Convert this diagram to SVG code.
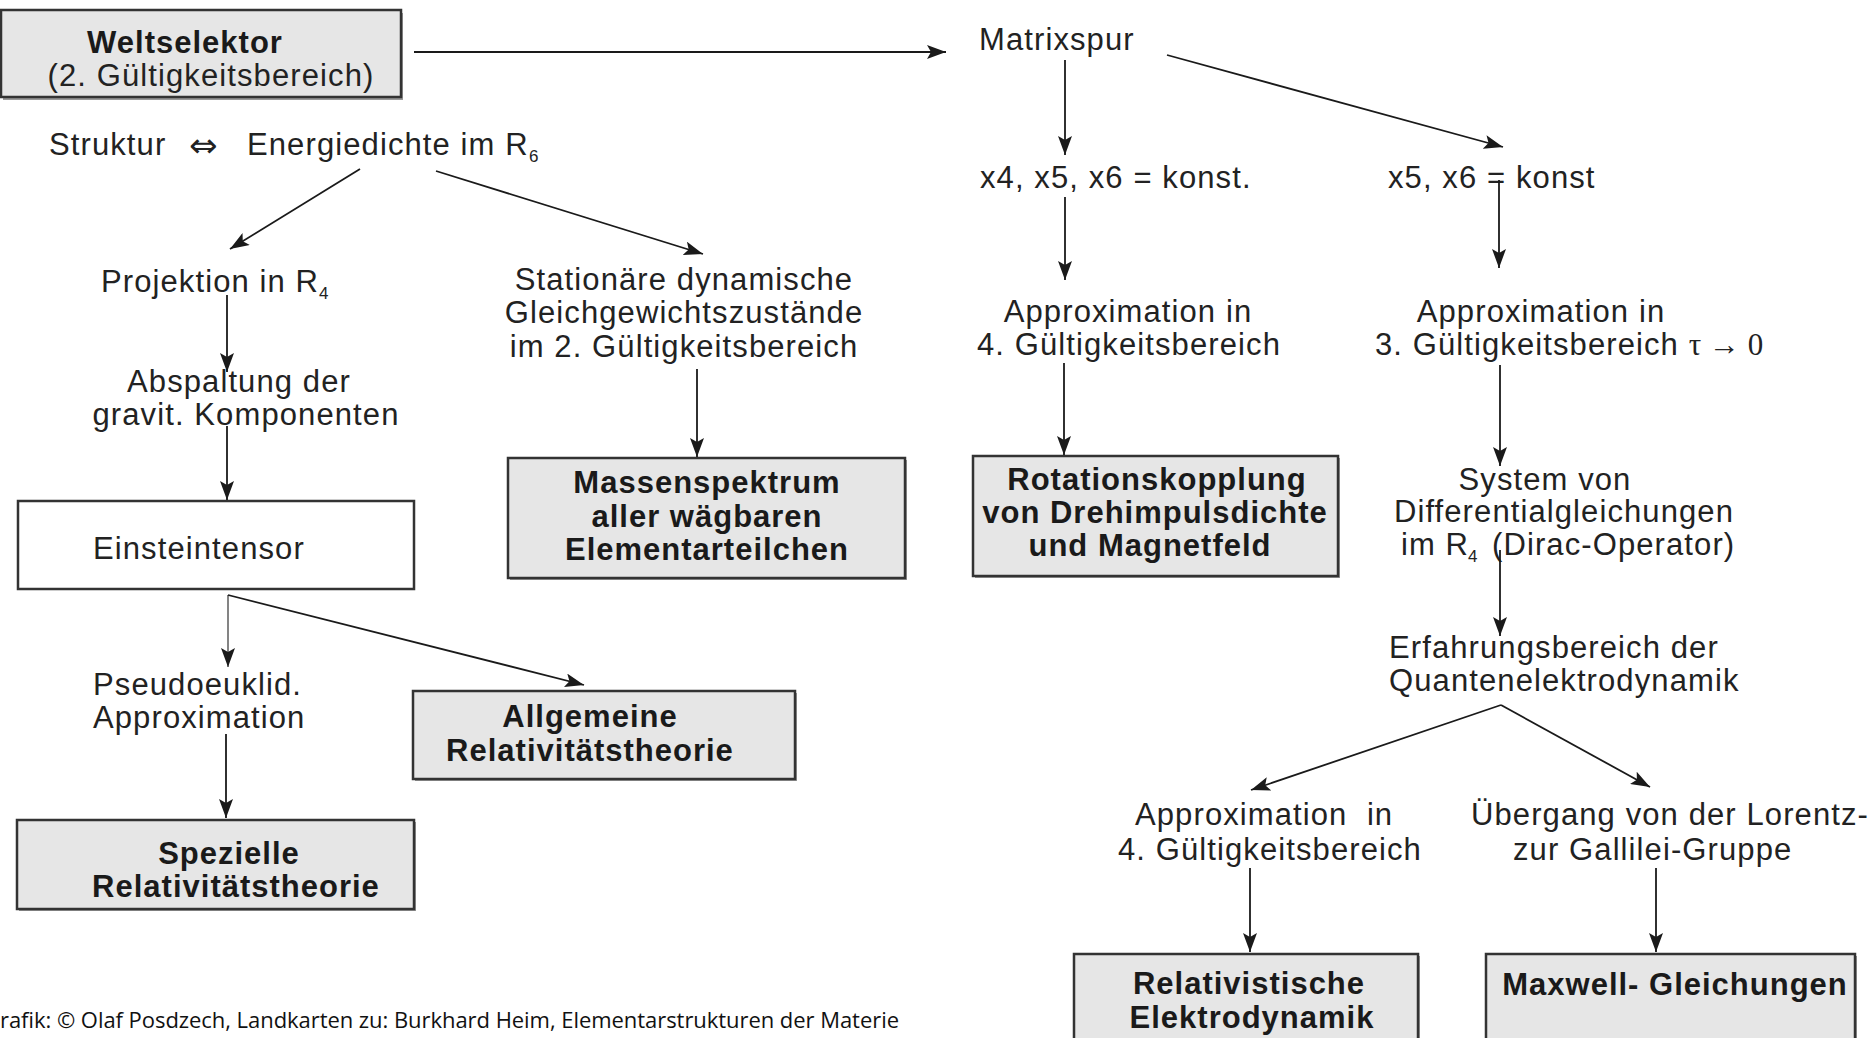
<svg xmlns="http://www.w3.org/2000/svg" width="1870" height="1038" viewBox="0 0 1870 1038">
<defs>
<marker id="ah" markerUnits="userSpaceOnUse" markerWidth="20" markerHeight="14" refX="19" refY="7" orient="auto">
<path d="M0,0 L19,7 L0,14 L4,7 Z" fill="#1a1a1a"/>
</marker>
</defs>
<style>
text{font-family:"Liberation Sans",Arial,Helvetica,sans-serif;font-size:31px;fill:#222;letter-spacing:1.1px}
.b{font-weight:bold;fill:#1a1a1a;letter-spacing:1px}
.m{text-anchor:middle}
.sub{font-size:17px;letter-spacing:0}
.sym{font-family:"DejaVu Sans",sans-serif;font-size:34px;letter-spacing:0}
.ser{font-family:"Liberation Serif",serif;letter-spacing:0}
.foot{font-family:"Open Sans","Noto Sans",sans-serif;font-size:22px;fill:#111;letter-spacing:0}
.box{fill:#e6e6e6;stroke:#333;stroke-width:2.5}
.wbox{fill:#fff;stroke:#333;stroke-width:2.5}
.sh{fill:#9a9a9a}
.c line{stroke:#1a1a1a;stroke-width:1.8;marker-end:url(#ah)}
</style>
<rect width="1870" height="1038" fill="#fff"/>

<g id="weltselektor">
<rect class="sh" x="3" y="13" width="400" height="87"/>
<rect class="box" x="1" y="10" width="400" height="87"/>
<text class="b m" x="185" y="53">Weltselektor</text>
<text class="m" x="211" y="86">(2. Gültigkeitsbereich)</text>
</g>

<g id="struktur">
<text x="49" y="155">Struktur</text>
<text class="sym" x="189" y="157">⇔</text>
<text x="247" y="155">Energiedichte im R</text>
<text class="sub" x="529" y="162">6</text>
</g>

<g id="projektion">
<text x="101" y="292">Projektion in R</text>
<text class="sub" x="319" y="299">4</text>
</g>

<g id="stationaer">
<text class="m" x="684" y="290">Stationäre dynamische</text>
<text class="m" x="684" y="323">Gleichgewichtszustände</text>
<text class="m" x="684" y="357">im 2. Gültigkeitsbereich</text>
</g>

<g id="abspaltung">
<text class="m" x="239" y="392">Abspaltung der</text>
<text class="m" x="246" y="425">gravit. Komponenten</text>
</g>

<g id="massenspektrum">
<rect class="sh" x="510" y="460" width="397" height="120"/>
<rect class="box" x="508" y="458" width="397" height="120"/>
<text class="b m" x="707" y="493">Massenspektrum</text>
<text class="b m" x="707" y="527">aller wägbaren</text>
<text class="b m" x="707" y="560">Elementarteilchen</text>
</g>

<g id="einsteintensor">
<rect class="wbox" x="18" y="501" width="396" height="88"/>
<text x="93" y="559">Einsteintensor</text>
</g>

<g id="pseudoeuklid">
<text x="93" y="695">Pseudoeuklid.</text>
<text x="93" y="728">Approximation</text>
</g>

<g id="allgemeine">
<rect class="sh" x="415" y="693" width="382" height="88"/>
<rect class="box" x="413" y="691" width="382" height="88"/>
<text class="b m" x="590" y="727">Allgemeine</text>
<text class="b m" x="590" y="761">Relativitätstheorie</text>
</g>

<g id="spezielle">
<rect class="sh" x="19" y="822" width="397" height="89"/>
<rect class="box" x="17" y="820" width="397" height="89"/>
<text class="b m" x="229" y="864">Spezielle</text>
<text class="b m" x="236" y="897">Relativitätstheorie</text>
</g>

<g id="matrixspur">
<text x="979" y="50">Matrixspur</text>
</g>

<g id="x4x5x6">
<text x="980" y="188">x4, x5, x6 = konst.</text>
</g>

<g id="x5x6">
<text x="1388" y="188">x5, x6 = konst</text>
</g>

<g id="approx4">
<text class="m" x="1128" y="322">Approximation in</text>
<text class="m" x="1129" y="355">4. Gültigkeitsbereich</text>
</g>

<g id="approx3">
<text class="m" x="1541" y="322">Approximation in</text>
<text x="1375" y="355">3. Gültigkeitsbereich <tspan class="ser">τ → 0</tspan></text>
</g>

<g id="rotation">
<rect class="sh" x="975" y="458" width="365" height="120"/>
<rect class="box" x="973" y="456" width="365" height="120"/>
<text class="b m" x="1157" y="490">Rotationskopplung</text>
<text class="b m" x="1155" y="523">von Drehimpulsdichte</text>
<text class="b m" x="1150" y="556">und Magnetfeld</text>
</g>

<g id="system">
<text class="m" x="1545" y="490">System von</text>
<text class="m" x="1564" y="522">Differentialgleichungen</text>
<text x="1401" y="555">im R</text>
<text class="sub" x="1468" y="562">4</text>
<text x="1492" y="555">(Dirac-Operator)</text>
</g>

<g id="erfahrung">
<text x="1389" y="658">Erfahrungsbereich der</text>
<text x="1389" y="691">Quantenelektrodynamik</text>
</g>

<g id="approx4b">
<text x="1135" y="825">Approximation&#160; in</text>
<text x="1118" y="860">4. Gültigkeitsbereich</text>
</g>

<g id="uebergang">
<text x="1471" y="825">Übergang von der Lorentz-</text>
<text x="1513" y="860">zur Gallilei-Gruppe</text>
</g>

<g id="relativistische">
<rect class="sh" x="1076" y="956" width="344" height="100"/>
<rect class="box" x="1074" y="954" width="344" height="100"/>
<text class="b m" x="1249" y="994">Relativistische</text>
<text class="b m" x="1252" y="1028">Elektrodynamik</text>
</g>

<g id="maxwell">
<rect class="sh" x="1488" y="956" width="369" height="100"/>
<rect class="box" x="1486" y="954" width="369" height="100"/>
<text class="b m" x="1675" y="995">Maxwell- Gleichungen</text>
</g>

<g id="footer">
<text class="foot" x="0" y="1028" textLength="899" lengthAdjust="spacing">rafik: © Olaf Posdzech, Landkarten zu: Burkhard Heim, Elementarstrukturen der Materie</text>
</g>

<g id="connectors" class="c">
<line x1="414" y1="52" x2="946" y2="52"/>
<line x1="360" y1="169" x2="230" y2="249"/>
<line x1="436" y1="171" x2="703" y2="254"/>
<line x1="227" y1="295" x2="227" y2="372"/>
<line x1="227" y1="426" x2="227" y2="500"/>
<line x1="228" y1="595" x2="228" y2="667" style="stroke:#777"/>
<line x1="228" y1="595" x2="584" y2="685"/>
<line x1="226" y1="734" x2="226" y2="818"/>
<line x1="697" y1="369" x2="697" y2="457"/>
<line x1="1065" y1="60" x2="1065" y2="155"/>
<line x1="1167" y1="55" x2="1503" y2="147"/>
<line x1="1065" y1="197" x2="1065" y2="280"/>
<line x1="1499" y1="180" x2="1499" y2="268"/>
<line x1="1064" y1="363" x2="1064" y2="455"/>
<line x1="1500" y1="365" x2="1500" y2="466"/>
<line x1="1500" y1="550" x2="1500" y2="636"/>
<line x1="1501" y1="705" x2="1251" y2="790"/>
<line x1="1501" y1="705" x2="1650" y2="787"/>
<line x1="1250" y1="868" x2="1250" y2="952"/>
<line x1="1656" y1="868" x2="1656" y2="952"/>
</g>
</svg>
